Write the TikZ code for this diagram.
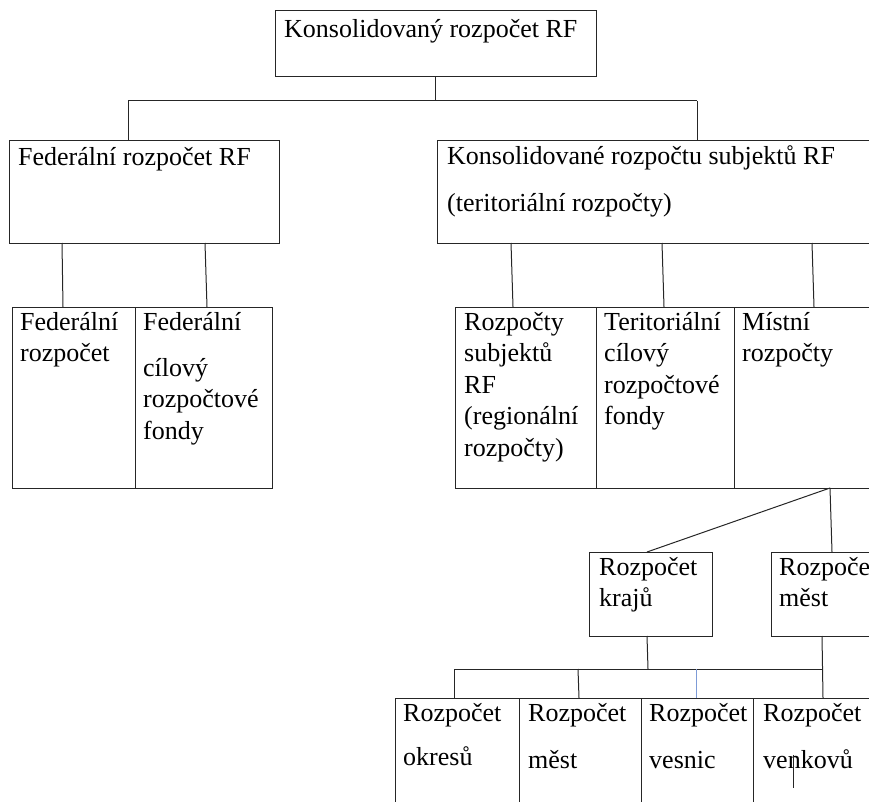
\documentclass[tikz,border=0pt]{standalone}
\usepackage{fontspec}
\setmainfont{Liberation Serif}
\usepackage{tikz}
\definecolor{boxline}{gray}{0.15}
\definecolor{busblue}{RGB}{125, 155, 215}
\tikzset{
	box/.style={draw=boxline, line width=1pt, anchor=north west, inner sep=0pt, outer sep=0pt},
	txt/.style={anchor=north west, inner sep=0pt, align=left, font=\fontsize{26}{31.5}\selectfont, execute at begin node={\rule{0pt}{20pt}}},
	link/.style={draw=boxline, line width=1pt}
}

\begin{document}
\begin{tikzpicture}[x=1pt, y=-1pt]
		\useasboundingbox (0,0) rectangle (869,802);
		\clip (0,0) rectangle (869,802);
		
		\node[box, minimum width=321pt, minimum height=66pt] (top) at (275,11) {};
		\node[txt] (topT) at (284,17) {Konsolidovaný rozpočet RF};
		
		\node[box, minimum width=270pt, minimum height=102pt] (fedRF) at (9,141) {};
		\node[txt] (fedRFT) at (18,145) {Federální rozpočet RF};
		\node[box, minimum width=453pt, minimum height=102pt] (konsRF) at (437,141) {};
		\node[txt] (konsRFT) at (447,145) {Konsolidované rozpočtu subjektů RF\\[15.5pt](teritoriální rozpočty)};
		
		\node[box, minimum width=123pt, minimum height=181pt] (fedB1) at (12,307) {};
		\node[txt] (fedB1T) at (20,312) {Federální\\rozpočet};
		\node[box, minimum width=137pt, minimum height=181pt] (fedB2) at (135,307) {};
		\node[txt] (fedB2T) at (143,312) {Federální\\[14.5pt]cílový\\rozpočtové\\fondy};
		
		\node[box, minimum width=141pt, minimum height=181pt] (reg) at (455,307) {};
		\node[txt] (regT) at (464,312) {Rozpočty\\subjektů\\RF\\(regionální\\rozpočty)};
		\node[box, minimum width=138pt, minimum height=181pt] (terit) at (596,307) {};
		\node[txt] (teritT) at (604,312) {Teritoriální\\cílový\\rozpočtové\\fondy};
		\node[box, minimum width=156pt, minimum height=181pt] (mist) at (734,307) {};
		\node[txt] (mistT) at (742,312) {Místní\\rozpočty};
		
		\node[box, minimum width=123pt, minimum height=84pt] (kraj) at (589,552) {};
		\node[txt] (krajT) at (599,557) {Rozpočet\\krajů};
		\node[box, minimum width=119pt, minimum height=84pt] (mest) at (771,552) {};
		\node[txt] (mestT) at (779,557) {Rozpočet\\měst};
		
		\node[box, minimum width=124pt, minimum height=122pt] (okr) at (395,698) {};
		\node[txt] (okrT) at (403,703) {Rozpočet\\[12.5pt]okresů};
		\node[box, minimum width=122pt, minimum height=122pt] (mst) at (519,698) {};
		\node[txt] (mstT) at (528,703) {Rozpočet\\[15.5pt]měst};
		\node[box, minimum width=112pt, minimum height=122pt] (ves) at (641,698) {};
		\node[txt] (vesT) at (649,703) {Rozpočet\\[15.5pt]vesnic};
		\node[box, minimum width=137pt, minimum height=122pt] (ven) at (753,698) {};
		\node[txt] (venT) at (763,703) {Rozpočet\\[15.5pt]venkovů};
		
		\coordinate (jL) at (128,101);
		\coordinate (jR) at (697,101);
		\draw[link] (top.south) -- (top.south |- jL);
		\draw[link] (jL) -- (jR);
		\draw[link] (jL) -- (jL |- fedRF.north);
		\draw[link] (jR) -- (jR |- konsRF.north);
		
		\draw[link] ([xshift=53pt]fedRF.south west) -- ([xshift=51pt]fedB1.north west);
		\draw[link] ([xshift=196pt]fedRF.south west) -- ([xshift=72pt]fedB2.north west);
		
		\draw[link] ([xshift=74pt]konsRF.south west) -- ([xshift=58pt]reg.north west);
		\draw[link] ([xshift=225pt]konsRF.south west) -- ([xshift=68pt]terit.north west);
		\draw[link] ([xshift=375pt]konsRF.south west) -- ([xshift=80pt]mist.north west);
		
		\coordinate (jM) at ([xshift=96pt]mist.south west);
		\draw[link] (jM) -- ([xshift=58pt]kraj.north west);
		\draw[link] (jM) -- ([xshift=61pt]mest.north west);
		
		\coordinate (busL) at (454,669);
		\coordinate (busR) at (822,669);
		\coordinate (jK) at (648,669);
		\coordinate (b2) at (578,669);
		\coordinate (b3) at (696,669);
		\draw[link] (busL) -- (busR);
		\draw[link] ([xshift=58pt]kraj.south west) -- (jK);
		\draw[link] ([xshift=51pt]mest.south west) -- ([xshift=70pt]ven.north west);
		\draw[link] (busL) -- ([xshift=59pt]okr.north west);
		\draw[link] (b2) -- ([xshift=60pt]mst.north west);
		\draw[link, draw=busblue] (b3) -- ([xshift=55pt]ves.north west);
		
		\draw[link] ([xshift=40pt,yshift=-57pt]ven.north west) -- ++(0,33);
	\end{tikzpicture}
\end{document}
